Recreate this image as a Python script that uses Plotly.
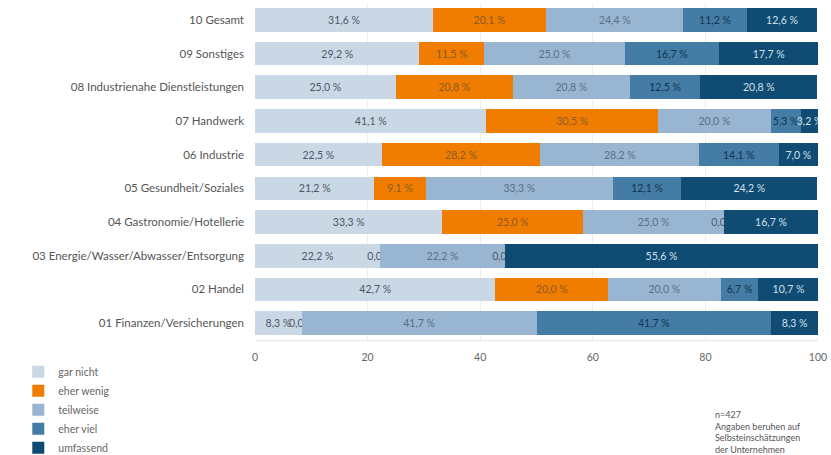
import plotly.graph_objects as go

categories = [
    "10 Gesamt",
    "09 Sonstiges",
    "08 Industrienahe Dienstleistungen",
    "07 Handwerk",
    "06 Industrie",
    "05 Gesundheit/Soziales",
    "04 Gastronomie/Hotellerie",
    "03 Energie/Wasser/Abwasser/Entsorgung",
    "02 Handel",
    "01 Finanzen/Versicherungen",
]

gar_nicht = [31.6, 29.2, 25.0, 41.1, 22.5, 21.2, 33.3, 22.2, 42.7, 8.3]
eher_wenig = [20.1, 11.5, 20.8, 30.5, 28.2, 9.1, 25.0, 0.0, 20.0, 0.0]
teilweise = [24.4, 25.0, 20.8, 20.0, 28.2, 33.3, 25.0, 22.2, 20.0, 41.7]
eher_viel = [11.2, 16.7, 12.5, 5.3, 14.1, 12.1, 0.0, 0.0, 6.7, 41.7]
umfassend = [12.6, 17.7, 20.8, 3.2, 7.0, 24.2, 16.7, 55.6, 10.7, 8.3]

series = [
    ("gar nicht", gar_nicht, "#cad7e4", "#4a5868"),
    ("eher wenig", eher_wenig, "#f07d00", "#8a5a2a"),
    ("teilweise", teilweise, "#98b6d2", "#5a6f86"),
    ("eher viel", eher_viel, "#457ca5", "#0f3550"),
    ("umfassend", umfassend, "#0f4b72", "#cfe0ee"),
]
ZERO_TEXT = "#505a66"

fig = go.Figure()
for name, vals, color, tcolor in series:
    tcolors = [ZERO_TEXT if v == 0 else tcolor for v in vals]
    fig.add_trace(go.Bar(
        y=categories, x=vals, name=name, orientation="h",
        marker=dict(color=color, line=dict(width=0)),
        texttemplate="%{x:.1f} %",
        # 0-Werte: Beschriftung trotzdem zeigen (wie im Original)
        textposition=["outside" if v == 0 else "inside" for v in vals],
        insidetextanchor="middle",
        constraintext="none",
        textangle=0,
        textfont=dict(color=tcolors, size=10.5, family="Lato"),
        outsidetextfont=dict(color=tcolors, size=10.5, family="Lato"),
        cliponaxis=True,
    ))

# Hinweis unten rechts
fig.add_annotation(
    xref="paper", yref="paper", x=0.813, y=-0.2,
    xanchor="left", yanchor="top", align="left", showarrow=False,
    text="n=427<br>Angaben beruhen auf<br>Selbsteinschätzungen<br>der Unternehmen",
    font=dict(size=9, color="#555", family="Lato"),
)

fig.update_layout(
    width=831, height=455,
    barmode="stack", bargap=0.3,
    separators=",.",
    paper_bgcolor="white", plot_bgcolor="white",
    margin=dict(l=255, r=13, t=3, b=115, autoexpand=False),
    font=dict(family="Lato", color="#555", size=11),
    xaxis=dict(range=[0, 100], tickvals=[0, 20, 40, 60, 80, 100],
               showgrid=True, gridcolor="#efefef", gridwidth=1,
               showline=True, linecolor="#e6e6e6", linewidth=1,
               zeroline=False, ticks="outside", ticklen=7, tickcolor="rgba(0,0,0,0)",
               tickfont=dict(size=10.5, color="#666"), automargin=False),
    yaxis=dict(autorange="reversed", showgrid=False, ticks="", ticklabelstandoff=10,
               tickfont=dict(size=11.5, color="#555"), automargin=False),
    legend=dict(xref="container", yref="container", x=0.022, y=0.215,
                xanchor="left", yanchor="top", orientation="v",
                traceorder="normal",
                font=dict(size=10.5, color="#666"), itemwidth=30,
                tracegroupgap=0),
    showlegend=True,
)

fig.write_html("out.html", config={"displayModeBar": False},
               post_script="document.body.style.margin='0';")
